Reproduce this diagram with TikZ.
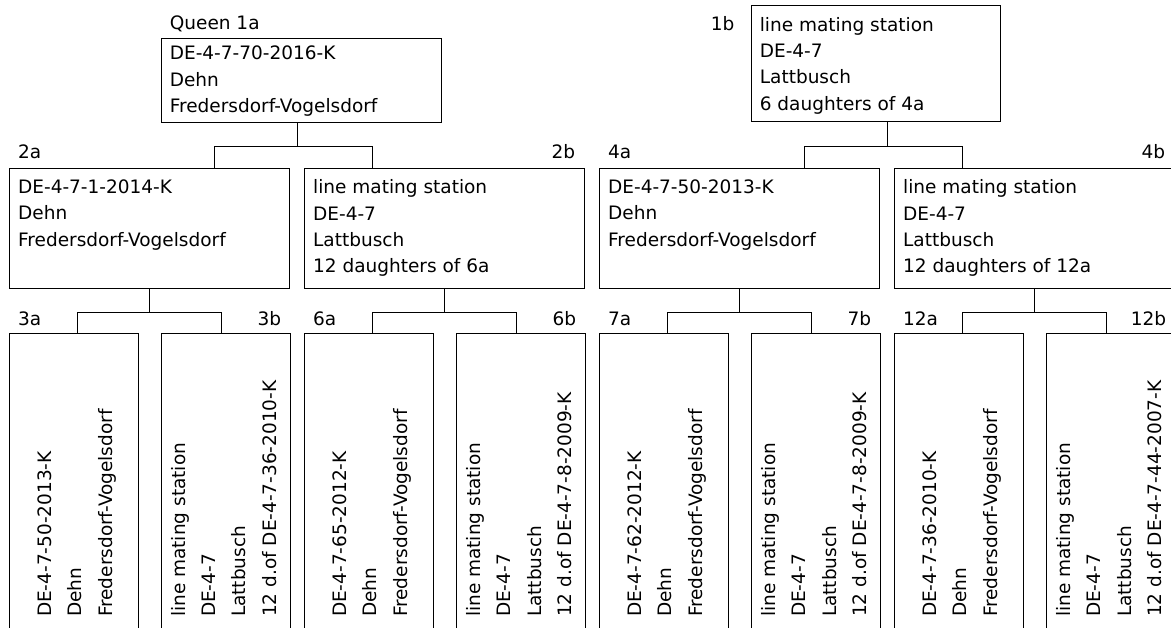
\documentclass[tikz,border=0pt]{standalone}
\usepackage{fontspec}
\setmainfont{DejaVu Sans}
\usetikzlibrary{positioning,calc}

\begin{document}
\begin{tikzpicture}[x=1pt, y=-1pt, line width=1.1pt,
cell/.style = {draw, rectangle, anchor=north west, inner sep=0pt,
	minimum width=#1},
midcell/.style = {cell=280pt, minimum height=120.6pt},
lowcell/.style = {cell=129pt, minimum height=330pt},
tag/.style = {inner sep=0pt, font=\fontsize{18.5}{22}\selectfont},
info/.style = {inner sep=0pt, align=left, anchor=north west,
	font=\fontsize{18.5}{26.3}\selectfont},
vinfo/.style = {inner sep=0pt, align=left, rotate=90, anchor=west,
	font=\fontsize{18.5}{30.3}\selectfont}
]
\clip (0,0) rectangle (1171,628);
% Draw the two top queens
\node[cell=280pt, minimum height=84.6pt] (Q-1a) at (160.7,37.7) {};
\node[tag, anchor=base west] (L-1a) at (169.3,30) {Queen 1a};
\node[info] (T-1a) at ([shift={(8.6,8)}]Q-1a.north west)
{DE-4-7-70-2016-K\\Dehn\\Fredersdorf-Vogelsdorf};
\node[cell=249pt, minimum height=116pt] (Q-1b) at (750.7,5) {};
\node[tag, anchor=base east] (L-1b) at ([shift={(-15.7,25.7)}]Q-1b.north west) {1b};
\node[info] (T-1b) at ([shift={(8.6,11.5)}]Q-1b.north west)
{line mating station\\DE-4-7\\Lattbusch\\6 daughters of 4a};
% Draw the middle row
\foreach \g/\txt in {0/{DE-4-7-1-2014-K\\Dehn\\Fredersdorf-Vogelsdorf},
	1/{line mating station\\DE-4-7\\Lattbusch\\12 daughters of 6a},
	2/{DE-4-7-50-2013-K\\Dehn\\Fredersdorf-Vogelsdorf},
	3/{line mating station\\DE-4-7\\Lattbusch\\12 daughters of 12a}}
{
	\node[midcell] (M-\g) at (9+295*\g,167.7) {};
	\node[info] (T-M-\g) at ([shift={(8.6,11.5)}]M-\g.north west) {\txt};
}
\foreach \g/\lab in {0/2a, 2/4a}
\node[tag, anchor=base west] (L-\lab) at ([shift={(8.5,-8.7)}]M-\g.north west) {\lab};
\foreach \g/\lab in {1/2b, 3/4b}
\node[tag, anchor=base east] (L-\lab) at ([shift={(-9.4,-8.7)}]M-\g.north east) {\lab};
% Draw the bottom row with rotated texts
\foreach \g/\la/\lb/\ta/\tb in {
	0/3a/3b/{DE-4-7-50-2013-K\\Dehn\\Fredersdorf-Vogelsdorf}/{line mating station\\DE-4-7\\Lattbusch\\12 d.of DE-4-7-36-2010-K},
	1/6a/6b/{DE-4-7-65-2012-K\\Dehn\\Fredersdorf-Vogelsdorf}/{line mating station\\DE-4-7\\Lattbusch\\12 d.of DE-4-7-8-2009-K},
	2/7a/7b/{DE-4-7-62-2012-K\\Dehn\\Fredersdorf-Vogelsdorf}/{line mating station\\DE-4-7\\Lattbusch\\12 d.of DE-4-7-8-2009-K},
	3/12a/12b/{DE-4-7-36-2010-K\\Dehn\\Fredersdorf-Vogelsdorf}/{line mating station\\DE-4-7\\Lattbusch\\12 d.of DE-4-7-44-2007-K}}
{
	\node[lowcell] (B-\la) at (9+295*\g,333.3) {};
	\node[lowcell] (B-\lb) at (160.5+295*\g,333.3) {};
	\node[tag, anchor=base west] (L-\la) at ([shift={(8.5,-7.8)}]B-\la.north west) {\la};
	\node[tag, anchor=base east] (L-\lb) at ([shift={(-9,-7.8)}]B-\lb.north east) {\lb};
	\node[vinfo] (V-\la) at ([shift={(2.9,284.2)}]B-\la.north) {\ta};
	\node[vinfo] (V-\lb) at ([shift={(-1.6,284.2)}]B-\lb.north) {\tb};
	% connect the middle cell with its two cells below
	\draw (M-\g.south) -- ++(0,23) coordinate (J-\g);
	\draw ([xshift=3.8pt]B-\la.north) |- (J-\g) -| ([xshift=-3.8pt]B-\lb.north);
}
% Connect the top queens with the middle row
\draw ([xshift=-4pt]Q-1a.south) -- ++(0,22.7) coordinate (J-1a);
\draw ([xshift=64.7pt]M-0.north) |- (J-1a) -| ([xshift=-71.7pt]M-1.north);
\draw ([xshift=12pt]Q-1b.south) -- ++(0,24) coordinate (J-1b);
\draw ([xshift=64.7pt]M-2.north) |- (J-1b) -| ([xshift=-71.7pt]M-3.north);
\end{tikzpicture}
\end{document}
